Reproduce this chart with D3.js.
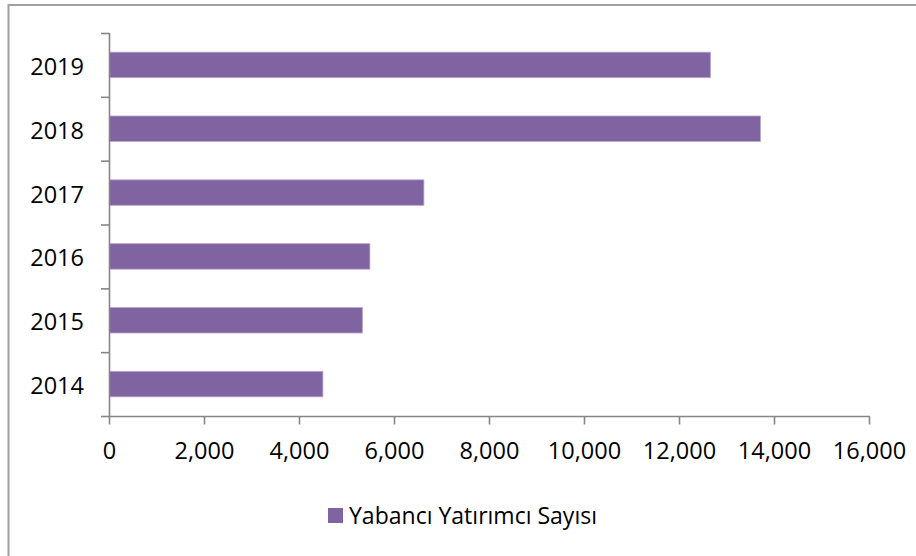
<!DOCTYPE html>
<html><head><meta charset="utf-8">
<script src="https://cdn.jsdelivr.net/npm/d3@7"></script>
<style>html,body{margin:0;padding:0;background:#fff;}svg{display:block;}</style>
</head><body>
<svg id="c" width="916" height="556"></svg>
<script>
const categories = ["2014","2015","2016","2017","2018","2019"];
const values = [4493, 5326, 5482, 6619, 13705, 12653];
const xTicks = [0,2000,4000,6000,8000,10000,12000,14000,16000];
const seriesName = "Yabancı Yatırımcı Sayısı";

const svg = d3.select("#c");
const font = "'Open Sans', sans-serif";
const fs = 23.5;
const axisColor = "#868686";
const barColor = "#8064A2";

// outer frame (only left/top visible)
svg.append("rect").attr("x",8.5).attr("y",5).attr("width",1000).attr("height",1000)
  .attr("fill","none").attr("stroke","#a0a0a0").attr("stroke-width",2);

const x = d3.scaleLinear().domain([0,16000]).range([109.5,869.5]);
const y = d3.scaleBand().domain(categories.slice().reverse()).range([33,416]).paddingInner(0.6).paddingOuter(0.3);
const band = d3.scaleBand().domain(categories.slice().reverse()).range([33,416]);

// bars
svg.selectAll("rect.bar").data(categories).enter().append("rect").attr("class","bar")
  .attr("x",x(0)).attr("y",d=>y(d)).attr("height",y.bandwidth())
  .attr("width",(d,i)=>x(values[i])-x(0))
  .attr("fill",barColor).attr("stroke","#b9a9cf").attr("stroke-width",0.8);

// y axis line & ticks
const g = svg.append("g");
g.append("line").attr("x1",109.5).attr("x2",109.5).attr("y1",33).attr("y2",416.5).attr("stroke",axisColor).attr("stroke-width",1.6);
const yTickPos = band.domain().map(d=>band(d)).concat([416]);
g.selectAll("line.yt").data(yTickPos).enter().append("line").attr("class","yt")
  .attr("x1",101).attr("x2",109.5).attr("y1",d=>d+0.5).attr("y2",d=>d+0.5)
  .attr("stroke",axisColor).attr("stroke-width",1.6);
g.selectAll("text.yl").data(categories).enter().append("text").attr("class","yl")
  .attr("x",84).attr("y",d=>band(d)+band.bandwidth()/2+10)
  .attr("text-anchor","end").attr("font-family",font).attr("font-size",fs).attr("fill","#000")
  .text(d=>d);

// x axis
g.append("line").attr("x1",109).attr("x2",870).attr("y1",416.5).attr("y2",416.5).attr("stroke",axisColor).attr("stroke-width",1.6);
g.selectAll("line.xt").data(xTicks).enter().append("line").attr("class","xt")
  .attr("x1",d=>x(d)).attr("x2",d=>x(d)).attr("y1",416.5).attr("y2",424.5)
  .attr("stroke",axisColor).attr("stroke-width",1.6);
const fmt = d3.format(",");
g.selectAll("text.xl").data(xTicks).enter().append("text").attr("class","xl")
  .attr("x",d=>x(d)).attr("y",459)
  .attr("text-anchor","middle").attr("font-family",font).attr("font-size",fs).attr("fill","#000")
  .text(d=>fmt(d));

// legend
svg.append("rect").attr("x",328).attr("y",508).attr("width",15).attr("height",15).attr("fill",barColor);
svg.append("text").attr("x",349).attr("y",523.5).attr("font-family",font).attr("font-size",fs)
  .attr("fill","#000").attr("textLength",248).attr("lengthAdjust","spacingAndGlyphs").text(seriesName);
</script>
</body></html>
